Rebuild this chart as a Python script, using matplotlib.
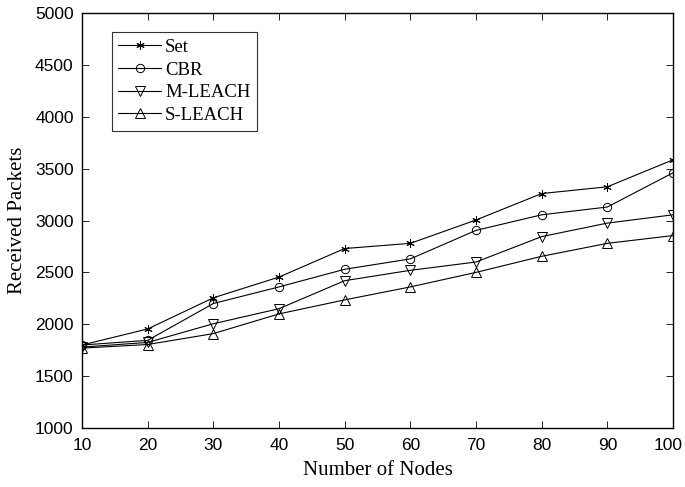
import matplotlib
matplotlib.use("Agg")
import matplotlib.pyplot as plt
import matplotlib.transforms as mtransforms

# data
nodes = [10, 20, 30, 40, 50, 60, 70, 80, 90, 100]
set_pkts = [1800, 1955, 2255, 2455, 2730, 2780, 3005, 3260, 3325, 3585]
cbr_pkts = [1800, 1845, 2200, 2360, 2530, 2630, 2905, 3055, 3130, 3460]
mleach_pkts = [1780, 1825, 2005, 2150, 2420, 2520, 2600, 2845, 2975, 3055]
sleach_pkts = [1770, 1805, 1910, 2100, 2235, 2360, 2500, 2655, 2780, 2855]

series = [
    ("Set", set_pkts, (6, 2, 0), 6),
    ("CBR", cbr_pkts, "o", 6),
    ("M-LEACH", mleach_pkts, "v", 7),
    ("S-LEACH", sleach_pkts, "^", 7),
]

fig = plt.figure(figsize=(6.85, 4.87), dpi=100)
ax = fig.add_axes([0.1197, 0.1211, 0.8628, 0.8522])

for name, vals, mk, ms in series:
    ax.plot(nodes, vals, color="black", lw=0.8, marker=mk, markersize=ms,
            markerfacecolor="none", markeredgecolor="black", markeredgewidth=0.7,
            label=name)

ax.set_xlim(10, 100)
ax.set_ylim(1000, 5000)
ax.set_xticks(nodes)
ax.set_yticks(range(1000, 5001, 500))
ax.tick_params(direction="in", top=True, right=True, length=5, width=0.6,
               labelsize=12.5)
ax.tick_params(axis="x", pad=7)
ax.tick_params(axis="y", pad=6)
for lbl in ax.get_xticklabels() + ax.get_yticklabels():
    lbl.set_family("Liberation Sans")
# last x label sits a bit left so it stays inside the figure
last = ax.get_xticklabels()[-1]
last.set_transform(last.get_transform() +
                   mtransforms.ScaledTranslation(-5 / 100, 0, fig.dpi_scale_trans))
for sp in ax.spines.values():
    sp.set_linewidth(1.0)

ax.set_xlabel("Number of Nodes", family="Liberation Serif", fontsize=15, labelpad=6)
ax.set_ylabel("Received Packets", family="Liberation Serif", fontsize=15, labelpad=6)

leg = ax.legend(loc="upper left", bbox_to_anchor=(0.05, 0.954),
                prop={"family": "Liberation Serif", "size": 13.5},
                frameon=True, fancybox=False, edgecolor="black",
                handlelength=2.3, handletextpad=0.2, labelspacing=0.3,
                borderpad=0.35, borderaxespad=0)
leg.get_frame().set_linewidth(0.8)

fig.savefig("out.png", dpi=100)
